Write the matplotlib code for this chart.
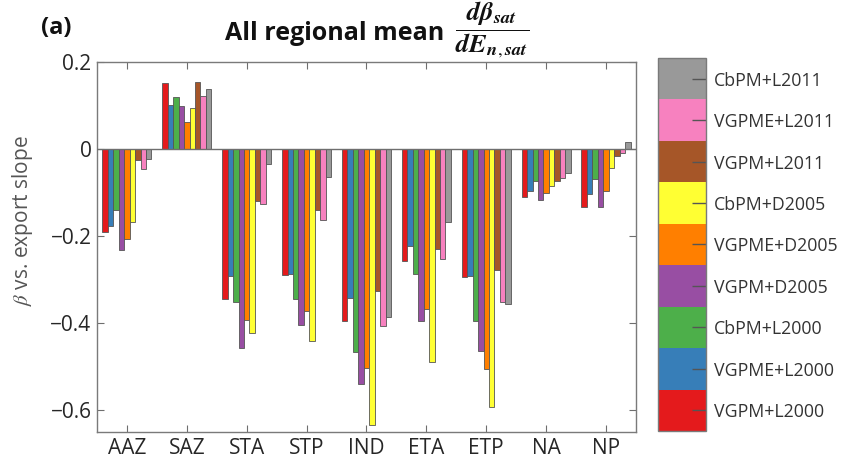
import numpy as np
import matplotlib
matplotlib.use("Agg")
import matplotlib.pyplot as plt
from matplotlib.colors import ListedColormap, BoundaryNorm
import matplotlib.colorbar as mcolorbar

plt.rcParams['font.family'] = ['Open Sans', 'DejaVu Sans']
plt.rcParams['mathtext.fontset'] = 'stix'

regions = ["AAZ", "SAZ", "STA", "STP", "IND", "ETA", "ETP", "NA", "NP"]
models = ["VGPM+L2000", "VGPME+L2000", "CbPM+L2000",
          "VGPM+D2005", "VGPME+D2005", "CbPM+D2005",
          "VGPM+L2011", "VGPME+L2011", "CbPM+L2011"]
colors = ["#e41a1c", "#377eb8", "#4daf4a", "#984ea3", "#ff7f00",
          "#ffff33", "#a65628", "#f781bf", "#999999"]

# one list per model, values per region
vgpm_l2000 = [-0.191, 0.152, -0.344, -0.289, -0.396, -0.258, -0.295, -0.109, -0.132]
vgpme_l2000 = [-0.177, 0.102, -0.292, -0.286, -0.341, -0.222, -0.291, -0.097, -0.103]
cbpm_l2000 = [-0.139, 0.120, -0.351, -0.345, -0.467, -0.286, -0.396, -0.074, -0.068]
vgpm_d2005 = [-0.231, 0.100, -0.456, -0.405, -0.540, -0.394, -0.464, -0.118, -0.132]
vgpme_d2005 = [-0.206, 0.063, -0.393, -0.371, -0.503, -0.367, -0.505, -0.102, -0.097]
cbpm_d2005 = [-0.168, 0.095, -0.423, -0.442, -0.634, -0.490, -0.592, -0.084, -0.044]
vgpm_l2011 = [-0.026, 0.154, -0.120, -0.141, -0.325, -0.229, -0.277, -0.073, -0.015]
vgpme_l2011 = [-0.045, 0.123, -0.126, -0.162, -0.407, -0.253, -0.352, -0.067, -0.010]
cbpm_l2011 = [-0.023, 0.138, -0.034, -0.063, -0.386, -0.168, -0.356, -0.056, 0.017]

series = [vgpm_l2000, vgpme_l2000, cbpm_l2000, vgpm_d2005, vgpme_d2005,
          cbpm_d2005, vgpm_l2011, vgpme_l2011, cbpm_l2011]

fig = plt.figure(figsize=(8.45, 4.67), dpi=100)
ax = fig.add_axes([0.1148, 0.0749, 0.6378, 0.7923])

x = np.arange(1, len(regions) + 1)
w = 0.091
for i, (vals, c) in enumerate(zip(series, colors)):
    ax.bar(x + (i - 4) * w, vals, width=w, color=c,
           edgecolor="#555555", linewidth=0.6, zorder=2)

ax.axhline(0, color="#6e6e6e", linewidth=1.0, zorder=3)
ax.set_xlim(0.5, 9.5)
ax.set_ylim(-0.65, 0.2)
ax.set_xticks(x)
ax.set_xticklabels(regions)
ax.set_yticks([0.2, 0, -0.2, -0.4, -0.6])
ax.set_yticklabels(["0.2", "0", "\u22120.2", "\u22120.4", "\u22120.6"])
ax.tick_params(direction="in", length=5, width=0.8, color="#6e6e6e",
               labelsize=15, labelcolor="#262626", top=True, right=True, pad=4)
for s in ax.spines.values():
    s.set_color("#7a7a7a")
    s.set_linewidth(1.0)

ax.set_ylabel(r"$\beta$ vs. export slope", fontsize=15, color="#555555", labelpad=4)
ax.yaxis.set_label_coords(-0.115, 0.57)

fig.text(225 / 845, 1 - 33 / 467, "All regional mean",
         fontsize=18, fontweight="bold", ha="left", va="center", color="#111111")
fig.text(455 / 845, 1 - 30 / 467,
         r"$\dfrac{\boldsymbol{d\beta}_{\boldsymbol{sat}}}{\boldsymbol{dE}_{\boldsymbol{n,sat}}}$",
         fontsize=19, ha="left", va="center", color="#111111")
fig.text(56 / 845, 1 - 28 / 467, "(a)", fontsize=17, fontweight="bold",
         ha="center", va="center", color="#111111")

# colour-box legend
cax = fig.add_axes([658 / 845, 1 - 431 / 467, 48 / 845, 373 / 467])
cmap = ListedColormap(colors)
norm = BoundaryNorm(np.arange(len(models) + 1), cmap.N)
cb = mcolorbar.ColorbarBase(cax, cmap=cmap, norm=norm, orientation="vertical")
cb.set_ticks(np.arange(len(models)) + 0.5)
cb.set_ticklabels(models)
cb.outline.set_edgecolor("#7a7a7a")
cb.outline.set_linewidth(1.0)
cax.tick_params(direction="in", length=10, width=1.0, color="#555555",
                labelsize=12.8, labelcolor="#333333", pad=6)
cax.yaxis.set_tick_params(which="minor", length=0)

fig.savefig("out.png", dpi=100)
